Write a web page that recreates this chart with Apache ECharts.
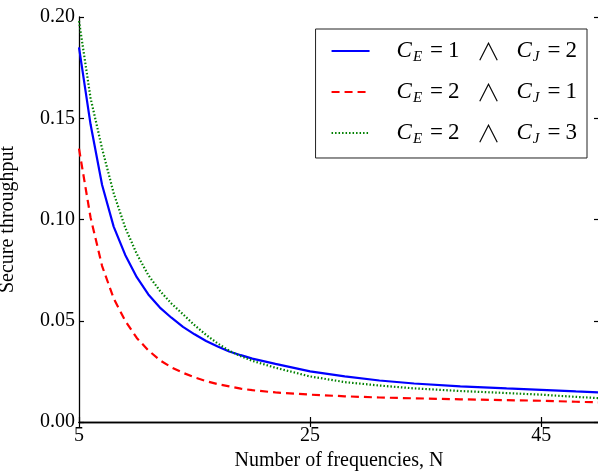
<!DOCTYPE html>
<html>
<head>
<meta charset="utf-8">
<script src="https://cdn.jsdelivr.net/npm/echarts@6/dist/echarts.min.js"></script>
<style>
  html, body { margin: 0; padding: 0; background: #fff; }
  #chart { width: 598px; height: 474px; }
</style>
</head>
<body>
<div id="chart"></div>
<script>
// number of frequencies N
const nValues = [5, 6, 7, 8, 9, 10, 11, 12, 13, 14, 15, 16, 17, 18, 19, 20, 22, 25, 28, 31, 34, 38, 42, 45, 48, 50]
// secure throughput
const blueVals = [0.185, 0.147, 0.117, 0.0965, 0.0825, 0.0715, 0.063, 0.0565, 0.0515, 0.047, 0.0433, 0.040, 0.0373, 0.0348, 0.033, 0.0313, 0.0287, 0.025, 0.0225, 0.0205, 0.019, 0.0176, 0.0166, 0.0159, 0.0151, 0.0146]
const redVals = [0.135, 0.101, 0.077, 0.061, 0.050, 0.0415, 0.0354, 0.0305, 0.027, 0.0243, 0.022, 0.0202, 0.0187, 0.0176, 0.0165, 0.0157, 0.0146, 0.0135, 0.0127, 0.0121, 0.0117, 0.0112, 0.0108, 0.0105, 0.0100, 0.0097]
const greenVals = [0.198, 0.160, 0.135, 0.113, 0.096, 0.083, 0.0725, 0.0648, 0.0585, 0.0532, 0.0478, 0.043, 0.0388, 0.0352, 0.0325, 0.0302, 0.0268, 0.0225, 0.0197, 0.018, 0.0166, 0.0153, 0.0143, 0.0135, 0.0124, 0.0118]

// legend: C_E and C_J values
const cE = [1, 2, 2]
const cJ = [2, 1, 3]
const seriesNames = ['s1', 's2', 's3']

const xTicks = [5, 25, 45]
const yTicks = [0, 0.05, 0.1, 0.15, 0.2]

const FONT = 'Liberation Serif'

function pairs(vals) {
  return nValues.map((n, i) => [n, vals[i]])
}

const chart = echarts.init(document.getElementById('chart'), null, { renderer: 'canvas' })

const legendLabel = {}
seriesNames.forEach((s, i) => {
  legendLabel[s] = `{c|C}{s|E}{q|=}{n|${cE[i]}}{w|∧}{c|C}{s|J}{q|=}{n|${cJ[i]}}`
})

const commonX = {
  type: 'value',
  min: 5,
  max: 50,
  axisLine: { show: true, lineStyle: { color: '#000', width: 1.3 } },
  splitLine: { show: false },
  axisTick: { show: true, inside: true, length: 5, customValues: xTicks, lineStyle: { color: '#000', width: 1.2 } }
}
const commonY = {
  type: 'value',
  min: 0,
  max: 0.2,
  axisLine: { show: true, lineStyle: { color: '#000', width: 1.3 } },
  splitLine: { show: false },
  axisTick: { show: true, inside: true, length: 5, customValues: yTicks, lineStyle: { color: '#000', width: 1.2 } }
}

const option = {
  backgroundColor: '#fff',
  animation: false,
  grid: { left: 79, top: 17, right: -1, bottom: 52, outerBoundsMode: 'none', containLabel: false },
  legend: {
    orient: 'vertical',
    right: 11,
    top: 29,
    backgroundColor: '#fff',
    borderColor: '#222',
    borderWidth: 1,
    borderRadius: 0,
    padding: [10, 10, 11, 15],
    itemWidth: 38,
    itemHeight: 14,
    itemGap: 15,
    itemStyle: { opacity: 0 },
    data: seriesNames,
    formatter: (name) => legendLabel[name],
    textStyle: {
      padding: [0, 0, 0, 22],
      rich: {
        c: { fontFamily: FONT, fontStyle: 'italic', fontSize: 23, color: '#000', lineHeight: 24 },
        s: { fontFamily: FONT, fontStyle: 'italic', fontSize: 15, color: '#000', verticalAlign: 'bottom', padding: [13, 0, 0, 1] },
        q: { fontFamily: FONT, fontSize: 23, color: '#000', padding: [0, 5, 0, 8] },
        n: { fontFamily: FONT, fontSize: 23, color: '#000' },
        w: { fontFamily: 'Noto Sans CJK JP', fontWeight: 300, fontSize: 24, color: '#000', lineHeight: 24, padding: [0, 16, 0, 17] }
      }
    }
  },
  xAxis: [
    Object.assign({}, commonX, {
      position: 'bottom',
      name: 'Number of frequencies, N',
      nameLocation: 'middle',
      nameGap: 27,
      nameTextStyle: { fontFamily: FONT, fontSize: 20, color: '#000' },
      axisLabel: { customValues: xTicks, fontFamily: FONT, fontSize: 20, color: '#000', margin: 4 }
    }),
    Object.assign({}, commonX, {
      position: 'top',
      axisLabel: { show: false }
    })
  ],
  yAxis: [
    Object.assign({}, commonY, {
      position: 'left',
      name: 'Secure throughput',
      nameLocation: 'middle',
      nameGap: 61,
      nameTextStyle: { fontFamily: FONT, fontSize: 20, color: '#000' },
      axisLabel: {
        customValues: yTicks,
        fontFamily: FONT,
        fontSize: 20,
        color: '#000',
        margin: 4,
        formatter: (v) => v.toFixed(2)
      }
    }),
    Object.assign({}, commonY, {
      position: 'right',
      axisLabel: { show: false }
    })
  ],
  series: [
    {
      name: seriesNames[0],
      type: 'line',
      data: pairs(blueVals),
      symbol: 'none',
      lineStyle: { color: '#0000ff', width: 2.2, type: 'solid' },
      itemStyle: { color: '#0000ff' },
      z: 3
    },
    {
      name: seriesNames[1],
      type: 'line',
      data: pairs(redVals),
      symbol: 'none',
      lineStyle: { color: '#ff0000', width: 2.2, type: [8, 5] },
      itemStyle: { color: '#ff0000' },
      z: 2
    },
    {
      name: seriesNames[2],
      type: 'line',
      data: pairs(greenVals),
      symbol: 'none',
      lineStyle: { color: '#008000', width: 2.2, type: [1.5, 2] },
      itemStyle: { color: '#008000' },
      z: 4
    }
  ]
}

chart.setOption(option)
</script>
</body>
</html>
